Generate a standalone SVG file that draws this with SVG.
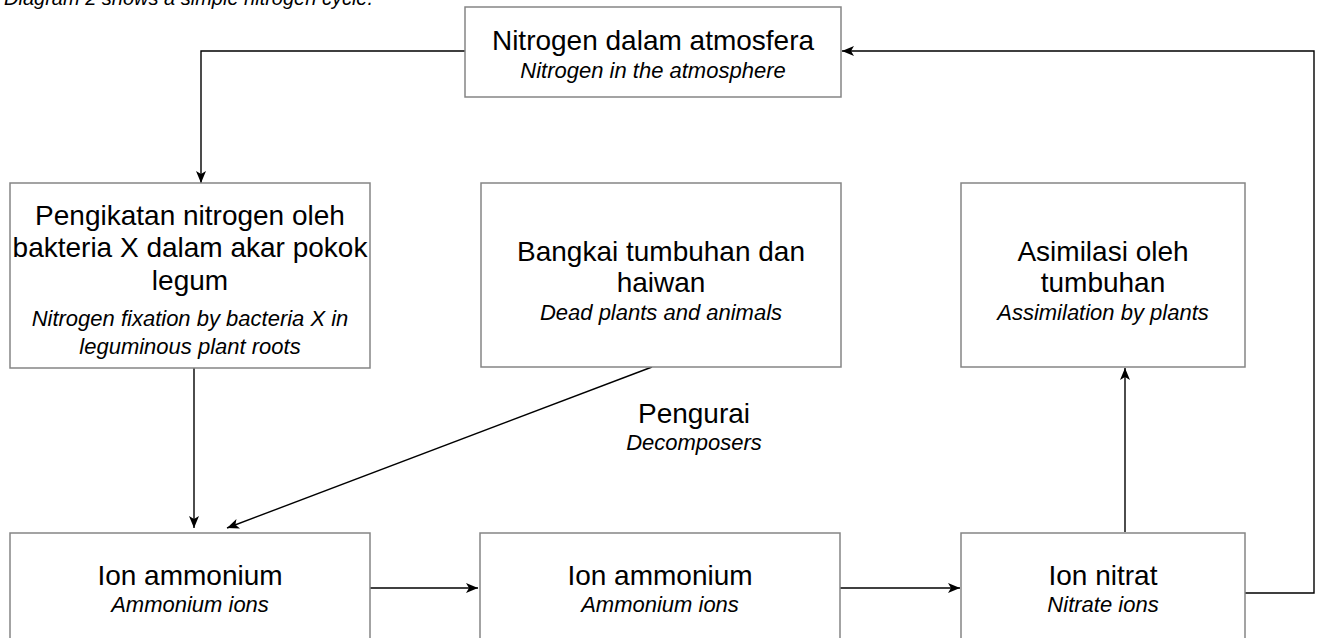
<svg xmlns="http://www.w3.org/2000/svg" width="1319" height="638" viewBox="0 0 1319 638">
<style>
.box{fill:#fff;stroke:#858585;stroke-width:1.5}
.t{font-family:"Liberation Sans",Arial,sans-serif;font-size:28px;fill:#000;text-anchor:middle}
.i{font-family:"Liberation Sans",Arial,sans-serif;font-size:22px;font-style:italic;fill:#000;text-anchor:middle}
.c{fill:none;stroke:#000;stroke-width:1.4}
</style>
<defs>
<marker id="ah" viewBox="0 0 12 10" refX="12" refY="5" markerWidth="12" markerHeight="10" markerUnits="userSpaceOnUse" orient="auto">
<path d="M0,0 L12,5 L0,10 L3,5 Z" fill="#000"/>
</marker>
</defs>
<rect width="1319" height="638" fill="#fff"/>
<text x="4" y="5" font-family="Liberation Sans, Arial, sans-serif" font-size="20" font-style="italic">Diagram 2 shows a simple nitrogen cycle.</text>

<g id="connectors">
<path class="c" d="M465,51 H201 V183" marker-end="url(#ah)"/>
<path class="c" d="M194,368 V528" marker-end="url(#ah)"/>
<path class="c" d="M652,367 L227,528" marker-end="url(#ah)"/>
<path class="c" d="M370,588 H478" marker-end="url(#ah)"/>
<path class="c" d="M840,588 H960" marker-end="url(#ah)"/>
<path class="c" d="M1125,532 V368" marker-end="url(#ah)"/>
<path class="c" d="M1245,593 H1314 V51 H842" marker-end="url(#ah)"/>
</g>

<g id="atmosphere">
<rect class="box" x="465" y="7" width="376" height="90"/>
<text class="t" x="653" y="50">Nitrogen dalam atmosfera</text>
<text class="i" x="653" y="78">Nitrogen in the atmosphere</text>
</g>

<g id="fixation">
<rect class="box" x="10" y="183" width="360" height="185"/>
<text class="t" x="190" y="225">Pengikatan nitrogen oleh</text>
<text class="t" x="190" y="257">bakteria X dalam akar pokok</text>
<text class="t" x="190" y="290">legum</text>
<text class="i" x="190" y="326">Nitrogen fixation by bacteria X in</text>
<text class="i" x="190" y="354">leguminous plant roots</text>
</g>

<g id="dead">
<rect class="box" x="481" y="183" width="360" height="184"/>
<text class="t" x="661" y="261">Bangkai tumbuhan dan</text>
<text class="t" x="661" y="292">haiwan</text>
<text class="i" x="661" y="320">Dead plants and animals</text>
</g>

<g id="assimilation">
<rect class="box" x="961" y="183" width="284" height="184"/>
<text class="t" x="1103" y="261">Asimilasi oleh</text>
<text class="t" x="1103" y="292">tumbuhan</text>
<text class="i" x="1103" y="320">Assimilation by plants</text>
</g>

<g id="decomposers">
<text class="t" x="694" y="423">Pengurai</text>
<text class="i" x="694" y="450">Decomposers</text>
</g>

<g id="ammonium1">
<rect class="box" x="10" y="533" width="360" height="130"/>
<text class="t" x="190" y="585">Ion ammonium</text>
<text class="i" x="190" y="612">Ammonium ions</text>
</g>

<g id="ammonium2">
<rect class="box" x="480" y="533" width="360" height="130"/>
<text class="t" x="660" y="585">Ion ammonium</text>
<text class="i" x="660" y="612">Ammonium ions</text>
</g>

<g id="nitrate">
<rect class="box" x="961" y="533" width="284" height="130"/>
<text class="t" x="1103" y="585">Ion nitrat</text>
<text class="i" x="1103" y="612">Nitrate ions</text>
</g>
</svg>
